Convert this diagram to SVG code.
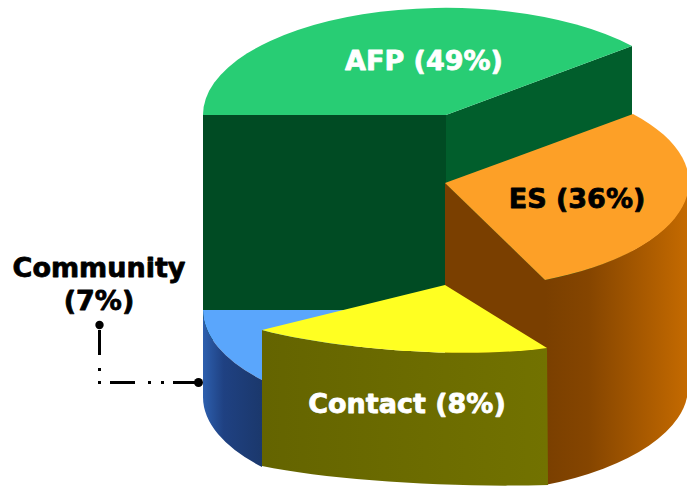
<svg xmlns="http://www.w3.org/2000/svg" width="687" height="489" viewBox="0 0 687 489">
<defs>
<linearGradient id="gEs" gradientUnits="userSpaceOnUse" x1="545" y1="0" x2="690" y2="0">
<stop offset="0" stop-color="#7a3f00"/><stop offset="0.3" stop-color="#854500"/><stop offset="1" stop-color="#c66b00"/>
</linearGradient>
<linearGradient id="gBlue" gradientUnits="userSpaceOnUse" x1="203" y1="0" x2="262" y2="0">
<stop offset="0" stop-color="#2d5fae"/><stop offset="0.35" stop-color="#1f4182"/><stop offset="1" stop-color="#1b386c"/>
</linearGradient>
<linearGradient id="gOlive" gradientUnits="userSpaceOnUse" x1="262" y1="0" x2="548" y2="0">
<stop offset="0" stop-color="#646400"/><stop offset="1" stop-color="#727200"/>
</linearGradient>
</defs>
<style>
.lbl{font-family:"DejaVu Sans",Verdana,sans-serif;font-weight:bold;font-size:27px;text-anchor:middle;stroke-width:0.8;stroke-linejoin:round}
.w{fill:#ffffff;stroke:#ffffff}
.k{fill:#000000;stroke:#000000}
.lead{fill:none;stroke:#000;stroke-width:3;stroke-dasharray:25 9 3 10 3 13}
</style>
<g id="afp">
<rect x="203" y="115" width="243" height="225" fill="#004b23"/>
<path d="M446,115 L632,46 L632,260 L446,330 Z" fill="#015e2c"/>
<path d="M446,115 L203,115 A243,107 0 0 1 632,46 Z" fill="#28cd74"/>
<text class="lbl w" x="424" y="70">AFP (49%)</text>
</g>
<g id="es">
<path d="M445,183 L545,280 L545,485 L445,388 Z" fill="#7a3f00"/>
<path d="M545,280 A243,107 0 0 0 688,183 L688,388 A243,107 0 0 1 545,485 Z" fill="url(#gEs)"/>
<path d="M445,183 L633,114 A243,107 0 0 1 545,280 Z" fill="#fda027"/>
<text class="lbl k" x="577" y="208">ES (36%)</text>
</g>
<g id="community">
<path d="M446,310 L203,310 A243,107 0 0 0 262,380 Z" fill="#5aa6fc"/>
<path d="M203,310 A243,107 0 0 0 262,380 L262,467 A243,107 0 0 1 203,397 Z" fill="url(#gBlue)"/>
<text class="lbl k" x="99" y="277">Community</text>
<text class="lbl k" x="99" y="310">(7%)</text>
</g>
<g id="contact">
<path d="M262,330 C330,348 460,360 547,348 L548,485 C450,488 330,480 262,466 Z" fill="url(#gOlive)"/>
<path d="M262,330 L445,285 L547,348 C460,360 330,348 262,330 Z" fill="#ffff22"/>
<text class="lbl w" x="407" y="413">Contact (8%)</text>
</g>
<g id="connectors">
<path class="lead" d="M198,382.5 H99.5 V325"/>
<circle cx="99.5" cy="325" r="4.2" fill="#000"/>
<circle cx="198.5" cy="382.5" r="4.5" fill="#000"/>
</g>
</svg>
